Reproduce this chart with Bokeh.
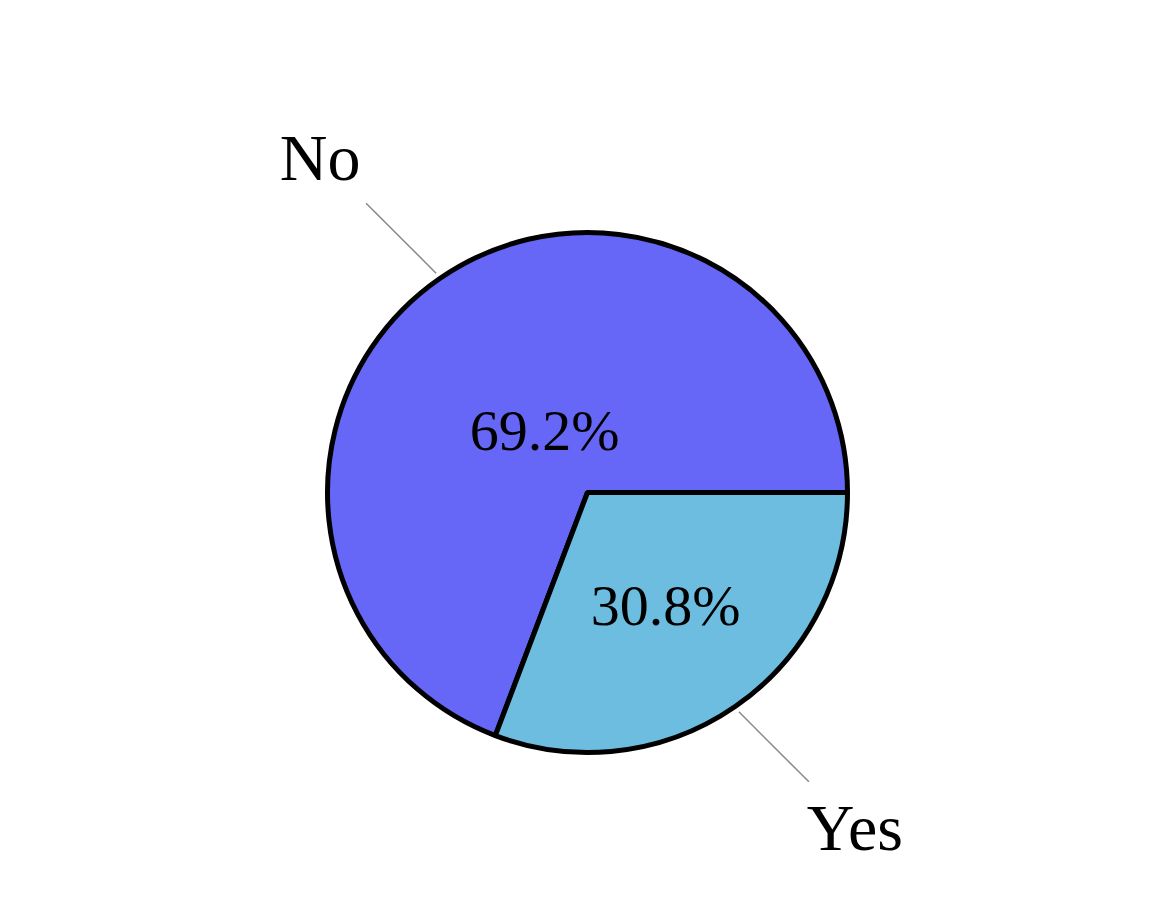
import numpy as np
from bokeh.plotting import figure
from bokeh.models import Range1d, ColumnDataSource
from bokeh.core.properties import value
from bokeh.embed import file_html
from bokeh.resources import INLINE

# data
answers = ["No", "Yes"]
counts = [9, 4]
colors = ["#6667F6", "#6CBDDF"]

# layout settings (pie radius in px, label radius factors)
R = 260
pct_r = [0.29, 0.53]
line_r0 = 1.025
line_len = 70     # leader lines run diagonally out from the slice edge
label_off = 46

total = sum(counts)
fracs = [c / total for c in counts]
ends = np.cumsum(fracs) * 2 * np.pi
starts = np.concatenate([[0], ends[:-1]])
# No goes anticlockwise from 0, Yes finishes the circle
mids = (starts + ends) / 2
pct_text = ["%.1f%%" % (f * 100) for f in fracs]

src = ColumnDataSource(dict(answer=answers, start=starts, end=ends, color=colors))

# pie centre sits at (587, 492) in the window
p = figure(width=1138, height=904, output_backend="svg", toolbar_location=None,
           x_range=Range1d(-587, 1138 - 587), y_range=Range1d(492 - 904, 492),
           min_border=0)
p.axis.visible = False
p.grid.visible = False
p.outline_line_color = None

p.wedge(x=0, y=0, radius=R, start_angle="start", end_angle="end", direction="anticlock",
        fill_color="color", line_color="black", line_width=5, source=src)

# leader lines
sx = [line_r0 * R * np.cos(m) for m in mids]
sy = [line_r0 * R * np.sin(m) for m in mids]
ex = [x + np.sign(x) * line_len for x in sx]
ey = [y + np.sign(y) * line_len for y in sy]
p.segment(x0=sx, y0=sy, x1=ex, y1=ey, line_color="#888888", line_width=1.5)

# outside labels, just past the end of each leader line
lx = [x + np.sign(x) * label_off for x in ex]
ly = [y + np.sign(y) * label_off for y in ey]
p.text(x=lx, y=ly, text=answers, text_font=value("Liberation Serif"), text_font_size="66px",
       text_align="center", text_baseline="middle", text_color="black")

# percentages inside
p.text(x=[r * R * np.cos(m) for r, m in zip(pct_r, mids)],
       y=[r * R * np.sin(m) for r, m in zip(pct_r, mids)],
       text=pct_text, text_font=value("Liberation Serif"), text_font_size="58px",
       text_align="center", text_baseline="middle", text_color="black")

open("out.html", "w").write(file_html(p, INLINE))
